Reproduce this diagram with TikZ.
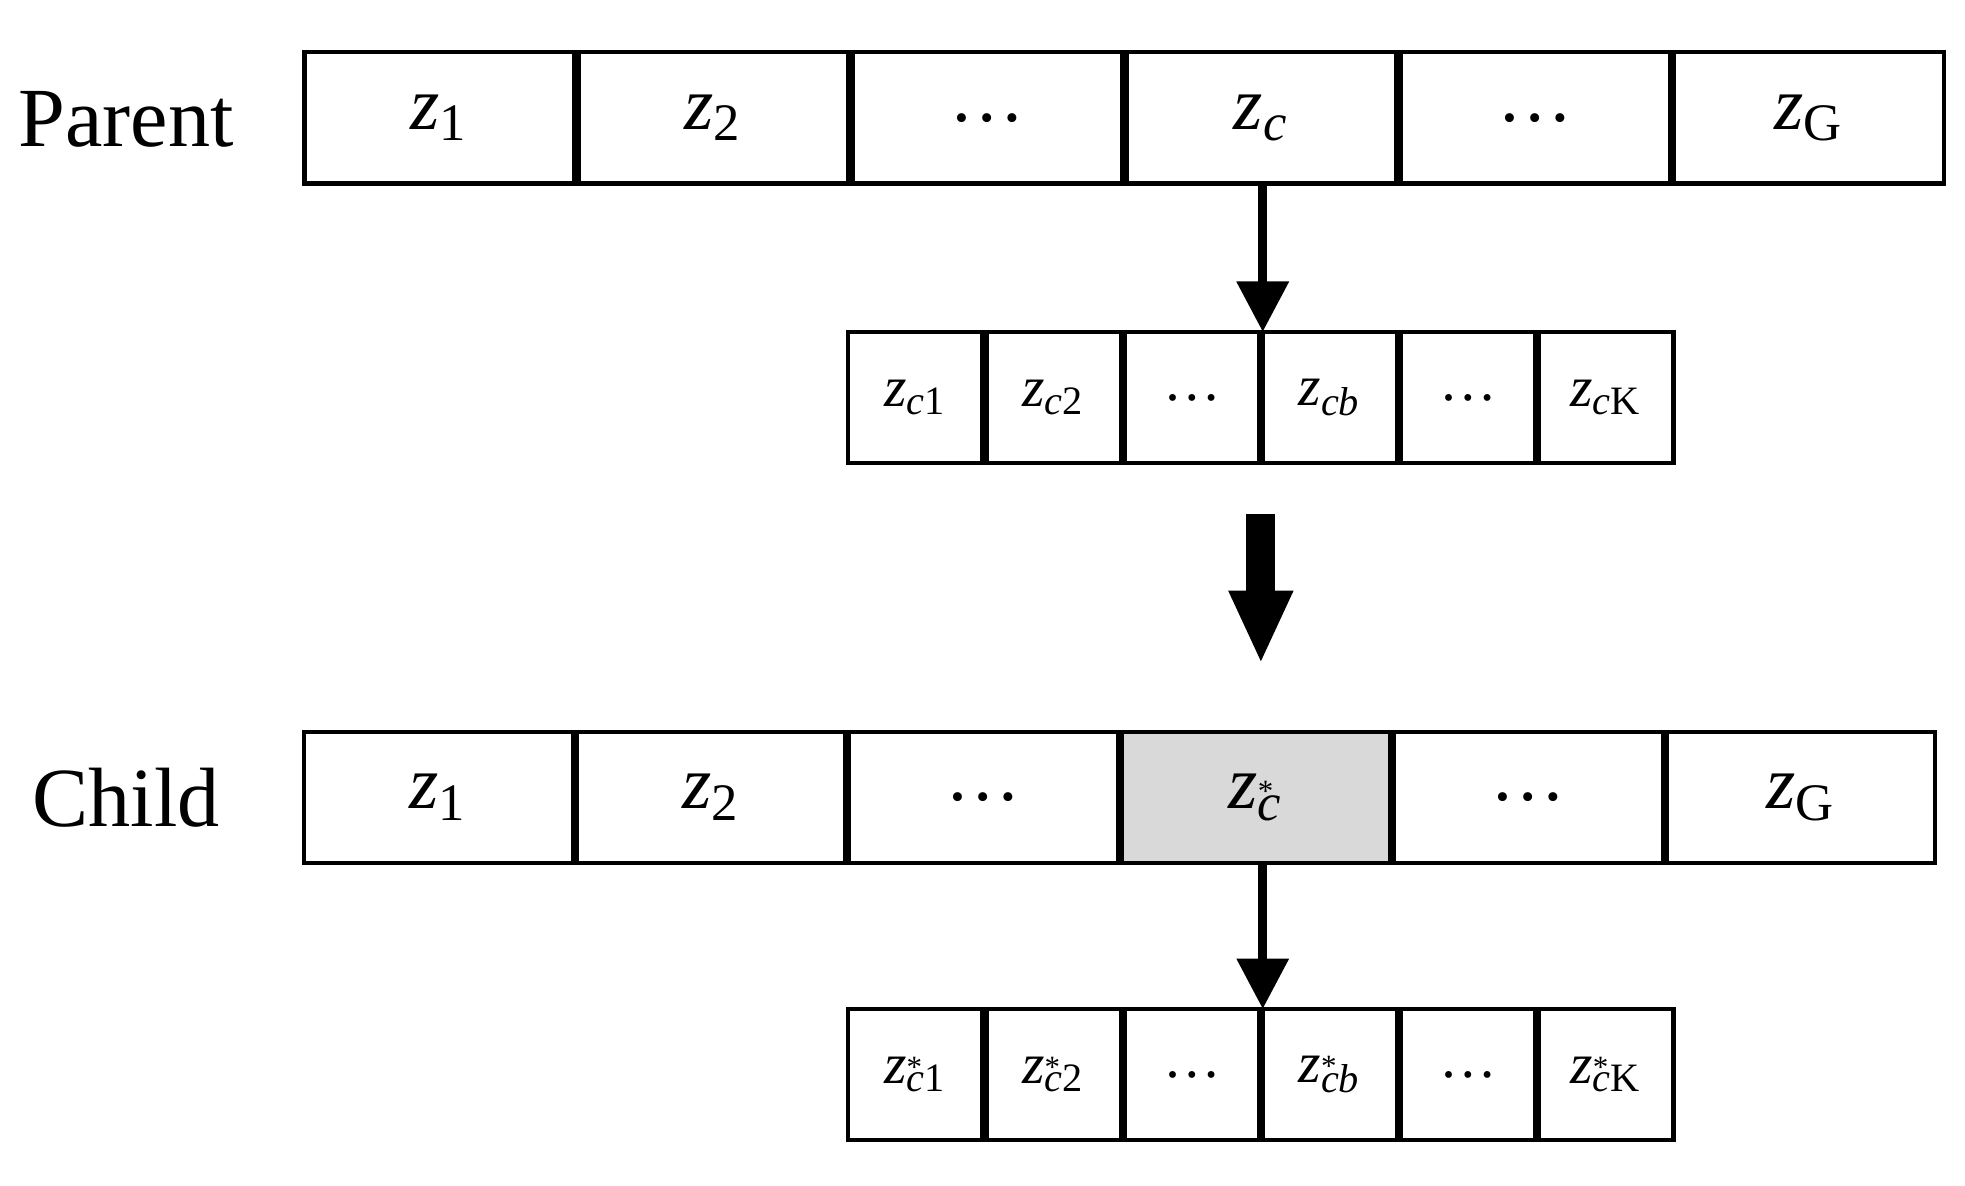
\documentclass[tikz,border=0pt]{standalone}
\usepackage{fontspec}
\setmainfont{Liberation Serif}
\usetikzlibrary{arrows.meta,positioning}
\newcommand{\zz}[1]{\textit{z}\textsubscript{#1}}
\newcommand{\zs}[1]{\textit{z}\rlap{\raisebox{0.1em}{\scriptsize *}}\textsubscript{#1}}
\begin{document}
\begin{tikzpicture}[x=0.01cm,y=-0.01cm,>={Triangle[width=0.4cm,length=0.4cm]}]
\tikzset{
  big/.style={draw,line width=1pt,outer sep=0pt,minimum width=2.14cm,minimum height=1.04cm,inner sep=0pt,font=\fontsize{17}{20}\selectfont},
  small/.style={draw,line width=1pt,outer sep=0pt,minimum width=1.067cm,minimum height=1.04cm,inner sep=0pt,font=\fontsize{13}{15}\selectfont},
  lab/.style={font=\fontsize{19}{22}\selectfont}
}
\useasboundingbox (0,0) rectangle (1560,941);
% parent row
\node[lab] (parent) at (100,95) {Parent};
\foreach \t [count=\i] in {\zz{1},\zz{2},…,\zz{\textit{c}},…,\zz{G}}
  \node[big] (p\i) at ({240+108.75+217.5*(\i-1)},93.5) {\t};
% parent genes
\foreach \t [count=\i] in {\zz{\textit{c}1},\zz{\textit{c}2},…,\zz{\textit{cb}},…,\zz{\textit{c}K}}
  \node[small] (q\i) at ({672+54.75+109.7*(\i-1)},315.5) {\t};
\draw[->,line width=2pt] (p4.south -| q4.north west) -- (q4.north west);
% big arrow
\coordinate (a1) at (1001,408);
\coordinate (a2) at (1001,527);
\draw[-{Triangle[width=0.47cm,length=0.58cm]},line width=0.23cm] (a1) -- (a2);
% child row
\node[lab] (child) at (100,633) {Child};
\foreach \t [count=\i] in {\zz{1},\zz{2},…,\zs{\textit{c}},…,\zz{G}}
  \node[big,minimum width=2.133cm] (c\i) at ({240+108.15+216.3*(\i-1)},633) {\t};
\node[big,minimum width=2.133cm,fill=gray!30] at (c4) {\zs{\textit{c}}};
% child genes
\foreach \t [count=\i] in {\zs{\textit{c}1},\zs{\textit{c}2},…,\zs{\textit{cb}},…,\zs{\textit{c}K}}
  \node[small] (d\i) at ({672+54.75+109.7*(\i-1)},853) {\t};
\draw[->,line width=2pt] (c4.south -| d4.north west) -- (d4.north west);
\end{tikzpicture}
\end{document}
